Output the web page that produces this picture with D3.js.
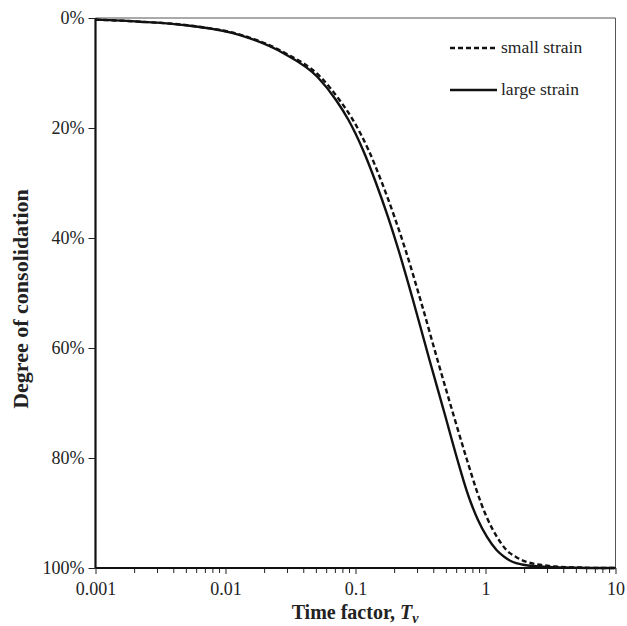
<!DOCTYPE html>
<html>
<head>
<meta charset="utf-8">
<script src="https://cdn.jsdelivr.net/npm/d3@7"></script>
<style>
  body { margin: 0; background: #fff; }
  svg { display: block; }
  text { font-family: "Liberation Serif", "Times New Roman", serif; fill: #222; }
</style>
</head>
<body>
<svg id="chart" width="627" height="626"></svg>
<script>
// ---- data ----
const smallStrainT = [0.001, 0.00222, 0.00543, 0.01328, 0.0287, 0.05381, 0.07533, 0.09567, 0.1259, 0.160, 0.1995, 0.2424, 0.3162, 0.4274, 0.5674, 0.7207, 0.8526, 0.9235, 1.045, 1.226, 1.45, 1.717, 2.085, 2.534, 3.424, 5.333, 7.6, 10];
const smallStrainU = [0.003, 0.0067, 0.014, 0.031, 0.0636, 0.1073, 0.1491, 0.1855, 0.240, 0.300, 0.3618, 0.4218, 0.5127, 0.6218, 0.7218, 0.8036, 0.8582, 0.8818, 0.9127, 0.9436, 0.9673, 0.980, 0.9891, 0.9936, 0.9973, 0.9991, 1.0, 1.0];
const largeStrainT = [0.001, 0.0022, 0.0053, 0.01293, 0.0277, 0.05103, 0.07079, 0.08835, 0.1142, 0.1438, 0.1778, 0.2142, 0.2768, 0.3709, 0.488, 0.609, 0.714, 0.7735, 0.8755, 1.027, 1.215, 1.400, 1.627, 1.909, 2.626, 3.742, 6.365, 10];
const largeStrainU = [0.003, 0.0067, 0.014, 0.031, 0.0636, 0.1073, 0.1491, 0.1855, 0.240, 0.300, 0.3618, 0.4218, 0.5127, 0.6218, 0.7218, 0.8036, 0.8582, 0.8818, 0.9127, 0.9436, 0.9673, 0.980, 0.9891, 0.9936, 0.9973, 0.9991, 1.0, 1.0];
const xTickValues = [0.001, 0.01, 0.1, 1, 10];
const xTickLabels = ["0.001", "0.01", "0.1", "1", "10"];
const yTickValues = [0, 0.2, 0.4, 0.6, 0.8, 1.0];
const yTickLabels = ["0%", "20%", "40%", "60%", "80%", "100%"];
const seriesNames = ["small strain", "large strain"];

const svg = d3.select("#chart");
const pLeft = 95.5, pRight = 615.5, pTop = 18, pBottom = 568;

const x = d3.scaleLog().domain([0.001, 10]).range([pLeft, pRight]);
const y = d3.scaleLinear().domain([0, 1]).range([pTop, pBottom]);

// frame (top & right thin)
svg.append("line").attr("x1", pLeft).attr("x2", pRight).attr("y1", pTop).attr("y2", pTop)
  .attr("stroke", "#555").attr("stroke-width", 1);
svg.append("line").attr("x1", pRight).attr("x2", pRight).attr("y1", pTop).attr("y2", pBottom)
  .attr("stroke", "#555").attr("stroke-width", 1);

// minor ticks for x
const minor = [];
for (let d = 0.001; d < 10; d *= 10) for (let k = 2; k <= 9; k++) minor.push(+(d * k).toPrecision(3));

// x axis
const xAxis = svg.append("g").attr("transform", `translate(0,${pBottom})`);
xAxis.selectAll("line.minor").data(minor).enter().append("line")
  .attr("x1", d => x(d)).attr("x2", d => x(d)).attr("y1", 0).attr("y2", 5)
  .attr("stroke", "#222").attr("stroke-width", 1);
xAxis.call(d3.axisBottom(x).tickValues(xTickValues).tickFormat((d, i) => xTickLabels[i]).tickSize(6).tickPadding(8));
xAxis.select(".domain").attr("stroke", "#111").attr("stroke-width", 2.2).attr("d", `M${pLeft},0H${pRight}`);
xAxis.selectAll(".tick line").attr("stroke", "#222");
xAxis.selectAll(".tick text").attr("font-size", 18).attr("fill", "#222");

// y axis
const yAxis = svg.append("g").attr("transform", `translate(${pLeft},0)`);
yAxis.call(d3.axisLeft(y).tickValues(yTickValues).tickFormat((d, i) => yTickLabels[i]).tickSize(7).tickPadding(4));
yAxis.select(".domain").attr("stroke", "#111").attr("stroke-width", 2.2).attr("d", `M0,${pTop}V${pBottom}`);
yAxis.selectAll(".tick line").attr("stroke", "#222");
yAxis.selectAll(".tick text").attr("font-size", 18).attr("fill", "#222");

// curves
const line = d3.line().x(d => x(d[0])).y(d => y(d[1])).curve(d3.curveMonotoneX);
const small = smallStrainT.map((t, i) => [t, smallStrainU[i]]);
const large = largeStrainT.map((t, i) => [t, largeStrainU[i]]);

svg.append("path").datum(large).attr("d", line).attr("fill", "none")
  .attr("stroke", "#111").attr("stroke-width", 2.4);
svg.append("path").datum(small).attr("d", line).attr("fill", "none")
  .attr("stroke", "#111").attr("stroke-width", 2.4).attr("stroke-dasharray", "5,3");

// legend
const legend = svg.append("g");
const legendY = [48, 90];
const legendDash = ["5,3", null];
seriesNames.forEach((name, i) => {
  const ln = legend.append("line").attr("x1", 450).attr("x2", 497)
    .attr("y1", legendY[i]).attr("y2", legendY[i])
    .attr("stroke", "#111").attr("stroke-width", 2.4);
  if (legendDash[i]) ln.attr("stroke-dasharray", legendDash[i]);
  legend.append("text").attr("x", 501).attr("y", legendY[i] + 5)
    .attr("font-size", 17.5).text(name);
});

// axis titles
const xt = svg.append("text").attr("x", 355).attr("y", 619).attr("text-anchor", "middle")
  .attr("font-size", 20).attr("font-weight", "bold");
xt.append("tspan").text("Time factor, ");
xt.append("tspan").attr("font-style", "italic").text("T");
xt.append("tspan").attr("font-style", "italic").attr("font-size", 14).attr("dy", 4).text("v");

svg.append("text").attr("transform", "translate(28,299) rotate(-90)")
  .attr("text-anchor", "middle").attr("font-size", 22).attr("font-weight", "bold")
  .text("Degree of consolidation");
</script>
</body>
</html>
